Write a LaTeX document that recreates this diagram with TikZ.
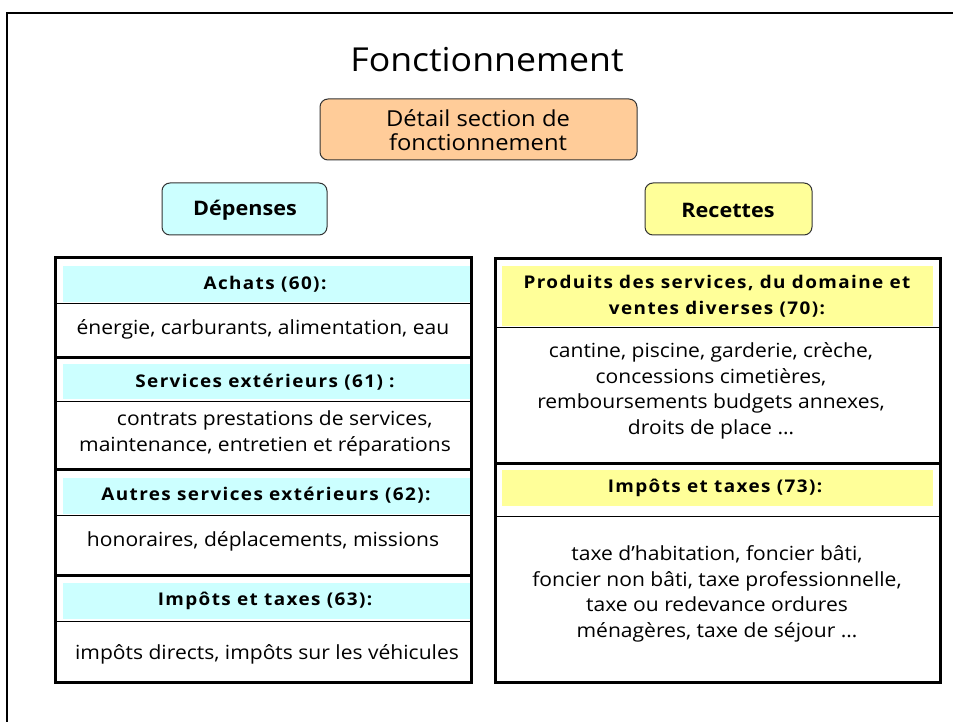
\documentclass[tikz,border=0pt]{standalone}
\usepackage{fontspec}
\setmainfont[FakeStretch=1.08]{Open Sans}
\newfontfamily\hdrfont[LetterSpace=8,FakeStretch=1.08]{Open Sans Bold}
\newfontfamily\boldfont[FakeStretch=1.08]{Open Sans Bold}
\definecolor{orangebox}{HTML}{FFCC99}
\definecolor{cyanbox}{HTML}{CCFFFF}
\definecolor{yellowbox}{HTML}{FFFF99}
\begin{document}
\begin{tikzpicture}[x=1pt,y=-1pt,
  roundbox/.style={draw=black!80, line width=1pt, rounded corners=8pt},
  thickline/.style={line width=3pt},
  thinline/.style={line width=1pt},
  bodytext/.style={font=\fontsize{19.5}{26}\selectfont, align=center, inner sep=0pt},
  hdrtext/.style={font=\hdrfont\fontsize{17.5}{26}\selectfont, align=center, inner sep=0pt},
]
\useasboundingbox (0,0) rectangle (953,722);
% outer frame
\draw[line width=2pt] (953,13) -- (7,13) -- (7,722);
% title
\node[font=\fontsize{33}{38}\selectfont, inner sep=0pt] (title) at (487,60) {Fonctionnement};
% orange box
\draw[roundbox, fill=orangebox] (320,99) rectangle (637,160);
\node[font=\fontsize{22}{24}\selectfont, align=center, inner sep=0pt] (detail) at (478,130) {Détail section de\\fonctionnement};
% depenses / recettes
\draw[roundbox, fill=cyanbox] (162,183) rectangle (327,235);
\node[font=\boldfont\fontsize{20}{23}\selectfont, inner sep=0pt] (dep) at (245,210) {Dépenses};
\draw[roundbox, fill=yellowbox] (645,183) rectangle (812,235);
\node[font=\boldfont\fontsize{20}{23}\selectfont, inner sep=0pt] (rec) at (728,210) {Recettes};

% ---------- left table ----------
\fill[cyanbox] (63,266) rectangle (472,302);
\fill[cyanbox] (63,364) rectangle (472,399);
\fill[cyanbox] (63,478) rectangle (472,514);
\fill[cyanbox] (63,583) rectangle (472,619);
\draw[thinline] (55,303) -- (471,303);
\draw[thinline] (55,401) -- (471,401);
\draw[thinline] (55,515) -- (471,515);
\draw[thinline] (55,621) -- (471,621);
\draw[thickline] (55,357) -- (471,357);
\draw[thickline] (55,469) -- (471,469);
\draw[thickline] (55,575) -- (471,575);
\draw[thickline] (55,257) rectangle (471,682);

\node[hdrtext] (h60) at (265,284) {Achats (60):};
\node[bodytext] (b60) at (263,329) {énergie, carburants, alimentation, eau};
\node[hdrtext] (h61) at (265,382) {Services extérieurs (61) :};
\node[bodytext] (b61) at (265,433) {\hspace*{1em}contrats prestations de services,\\maintenance, entretien et réparations};
\node[hdrtext] (h62) at (266,495) {Autres services extérieurs (62):};
\node[bodytext] (b62) at (263,541) {honoraires, déplacements, missions};
\node[hdrtext] (h63) at (265,601) {Impôts et taxes (63):};
\node[bodytext] (b63) at (267,654) {impôts directs, impôts sur les véhicules};

% ---------- right table ----------
\fill[yellowbox] (502,266) rectangle (933,326);
\fill[yellowbox] (502,470) rectangle (933,506);
\draw[thinline] (495,327) -- (940,327);
\draw[thinline] (495,516) -- (940,516);
\draw[thickline] (495,463) -- (940,463);
\draw[thickline] (495,258) rectangle (940,682);

\node[hdrtext] (h70) at (717,296) {Produits des services, du domaine et\\ventes diverses (70):};
\node[bodytext, font=\fontsize{19.5}{25.7}\selectfont] (b70) at (711,391) {cantine, piscine, garderie, crèche,\\concessions cimetières,\\remboursements budgets annexes,\\droits de place …};
\node[hdrtext] (h73) at (715,488) {Impôts et taxes (73):};
\node[bodytext, font=\fontsize{19.5}{25.7}\selectfont] (b73) at (717,594) {taxe d’habitation, foncier bâti,\\foncier non bâti, taxe professionnelle,\\taxe ou redevance ordures\\ménagères, taxe de séjour …};
\end{tikzpicture}
\end{document}
